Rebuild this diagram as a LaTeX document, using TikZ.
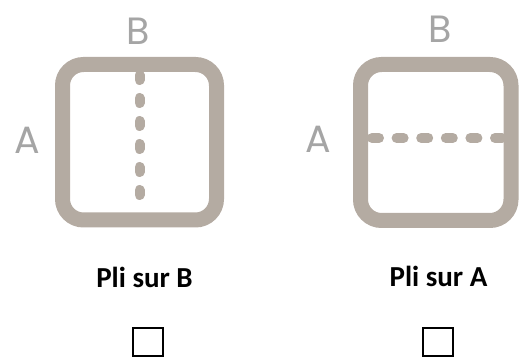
\documentclass[tikz,border=0pt]{standalone}
\usepackage{fontspec}
\setmainfont{Carlito}
\newfontfamily\labfont{Poppins}
\definecolor{boxcol}{RGB}{180,171,162}
\definecolor{labcol}{RGB}{165,165,165}
\begin{document}
\begin{tikzpicture}[x=1pt,y=-1pt,
  foldbox/.style={draw=boxcol,line width=15pt,rounded corners=21pt},
  foldline/.style={draw=boxcol,line width=10pt,line cap=round},
  letter/.style={text=labcol,font=\labfont\fontsize{38}{38}\selectfont,inner sep=0pt,anchor=base},
  caption/.style={font=\bfseries\fontsize{29}{29}\selectfont,inner sep=0pt,anchor=base},
  tick/.style={draw=black,line width=2pt}]
\useasboundingbox (0,0) rectangle (520,358);
% left diagram
\draw[foldbox] (62.5,64.5) rectangle (216.5,220);
\coordinate (l1) at (139.5,75);
\coordinate (l2) at (139.5,200);
\draw[foldline,dash pattern=on 5pt off 18pt] (l1) -- (l2);
\node[letter] (lb) at (138,45) {B};
\node[letter] (la) at (27,154) {A};
% right diagram
\draw[foldbox] (360.5,64.5) rectangle (511,220.5);
\coordinate (r1) at (372,138);
\coordinate (r2) at (502,138);
\draw[foldline,dash pattern=on 7pt off 17.6pt] (r1) -- (r2);
\node[letter] (rb) at (440,43) {B};
\node[letter] (ra) at (318,153) {A};
% captions
\node[caption] (cb) at (144.5,288) {Pli sur B};
\node[caption] (ca) at (438.5,287) {Pli sur A};
% check boxes
\node[tick,minimum width=30pt,minimum height=28pt,inner sep=0pt] (kb) at (148,342) {};
\node[tick,minimum width=30pt,minimum height=28pt,inner sep=0pt] (ka) at (438,342) {};
\end{tikzpicture}
\end{document}
